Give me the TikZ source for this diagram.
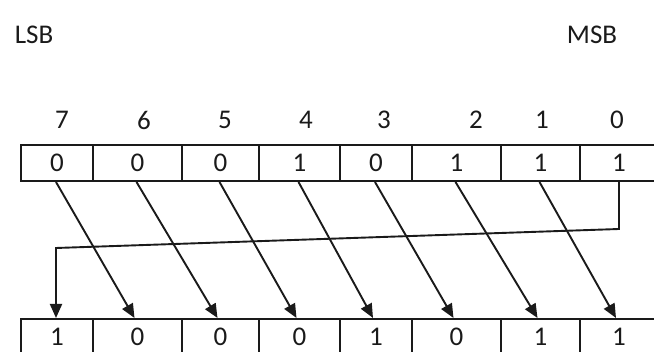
\documentclass[tikz,border=0pt]{standalone}
\usepackage{fontspec}
\setmainfont{Carlito}
\usetikzlibrary{arrows.meta}
\definecolor{ink}{HTML}{1A1A1A}
\begin{document}
\begin{tikzpicture}[x=1pt,y=-1pt,
  every node/.style={font=\fontsize{27}{30}\selectfont, text=ink},
  cell/.style={draw=ink, line width=2pt, minimum height=36pt, inner sep=0pt, anchor=center},
  lbl/.style={inner sep=0pt, anchor=center},
  shiftarrow/.style={draw=ink, line width=1.9pt, -{Triangle[length=14pt,width=12pt]}}]
\useasboundingbox (0,0) rectangle (654,352);
% labels
\node[lbl] (lsb) at (34,35) {LSB};
\node[lbl] (msb) at (592,35) {MSB};
\node[lbl] (n7) at (62,120) {7};
\node[lbl] (n6) at (144,120) {6};
\node[lbl] (n5) at (225,120) {5};
\node[lbl] (n4) at (306,120) {4};
\node[lbl] (n3) at (384,120) {3};
\node[lbl] (n2) at (476,120) {2};
\node[lbl] (n1) at (542,120) {1};
\node[lbl] (n0) at (617,120) {0};
% top register
\node[cell, minimum width=72pt] (t1) at (57,163) {0};
\node[cell, minimum width=89pt] (t2) at (137.5,163) {0};
\node[cell, minimum width=77pt] (t3) at (220.5,163) {0};
\node[cell, minimum width=81pt] (t4) at (299.5,163) {1};
\node[cell, minimum width=72pt] (t5) at (376,163) {0};
\node[cell, minimum width=89pt] (t6) at (456.5,163) {1};
\node[cell, minimum width=79pt] (t7) at (540.5,163) {1};
\node[cell, minimum width=78pt] (t8) at (619,163) {1};
% bottom register
\node[cell, minimum width=72pt] (b1) at (57,337) {1};
\node[cell, minimum width=89pt] (b2) at (137.5,337) {0};
\node[cell, minimum width=77pt] (b3) at (220.5,337) {0};
\node[cell, minimum width=81pt] (b4) at (299.5,337) {0};
\node[cell, minimum width=72pt] (b5) at (376,337) {1};
\node[cell, minimum width=89pt] (b6) at (456.5,337) {0};
\node[cell, minimum width=79pt] (b7) at (540.5,337) {1};
\node[cell, minimum width=78pt] (b8) at (619,337) {1};
% shift arrows
\foreach \i/\j in {1/2,2/3,3/4,4/5,5/6,6/7,7/8}
  \draw[shiftarrow] ([xshift=-1pt]t\i.south) -- ([xshift=-3pt]b\j.north);
% wrap-around
\coordinate (c1) at (619,229);
\coordinate (c2) at (56,248);
\draw[shiftarrow] (t8.south) -- (c1) -- (c2) -- (c2 |- b1.north);
\end{tikzpicture}
\end{document}
